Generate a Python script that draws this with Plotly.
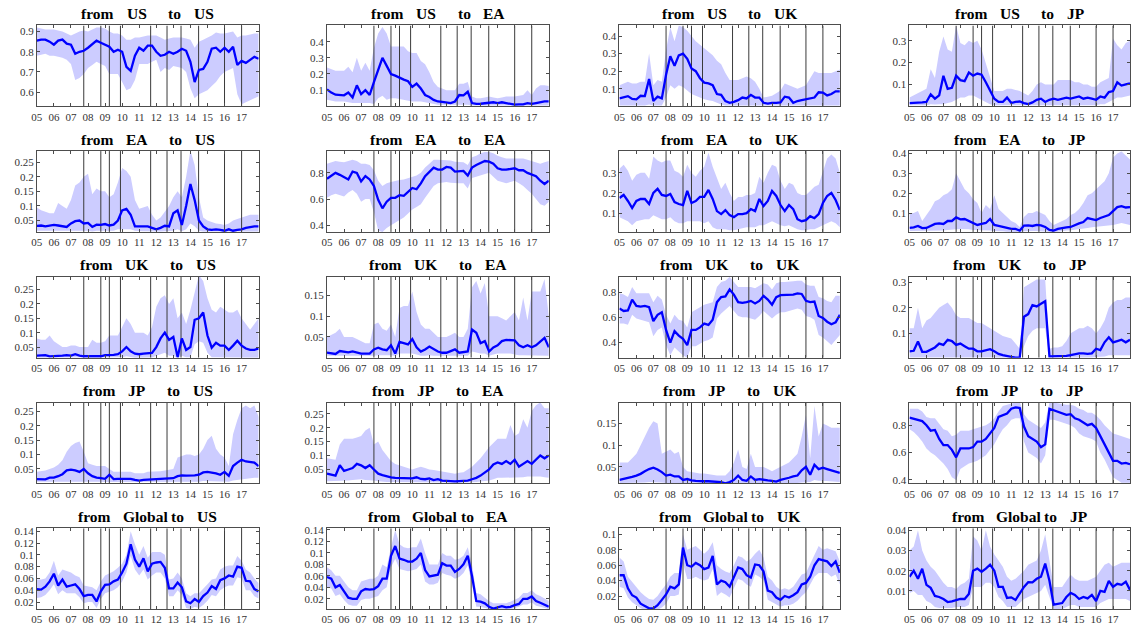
import plotly.graph_objects as go

# ---------------------------------------------------------------------------
# Time axis: quarterly observations 2005Q1 .. 2018Q1, year ticks 05..17
# ---------------------------------------------------------------------------
QUARTERS = [2005 + q / 4 for q in range(53)]
YEARS = list(range(2005, 2018))
YEAR_LABELS = ["05", "06", "07", "08", "09", "10", "11", "12", "13", "14", "15", "16", "17"]

# dates of the events marked with vertical lines
EVENTS = [2007.75, 2008.75, 2009.25, 2009.9, 2011.67, 2012.63, 2013.45, 2014.48, 2016.0, 2017.0]

FROM_REGIONS = ["US", "EA", "UK", "JP", "Global"]
TO_REGIONS = ["US", "EA", "UK", "JP"]

# ---------------------------------------------------------------------------
# Spillover shares: median and credible band (lower / upper)
# ---------------------------------------------------------------------------
US_US_MEAN = [0.855, 0.86, 0.86, 0.85, 0.835, 0.855, 0.86, 0.84, 0.835, 0.79, 0.80, 0.805,
              0.82, 0.84, 0.855, 0.845, 0.835, 0.825, 0.80, 0.81, 0.80, 0.725, 0.705, 0.78,
              0.82, 0.805, 0.83, 0.83, 0.80, 0.78, 0.785, 0.80, 0.79, 0.80, 0.815, 0.805,
              0.75, 0.65, 0.71, 0.715, 0.75, 0.815, 0.82, 0.80, 0.82, 0.80, 0.825, 0.735,
              0.755, 0.745, 0.76, 0.775, 0.765]
US_US_HI = [0.92, 0.915, 0.91, 0.91, 0.91, 0.905, 0.90, 0.89, 0.88, 0.89, 0.90, 0.905,
            0.90, 0.91, 0.92, 0.92, 0.915, 0.90, 0.89, 0.89, 0.88, 0.86, 0.86, 0.87,
            0.87, 0.875, 0.88, 0.88, 0.88, 0.87, 0.86, 0.865, 0.87, 0.87, 0.87, 0.865,
            0.86, 0.82, 0.85, 0.86, 0.87, 0.88, 0.895, 0.89, 0.89, 0.895, 0.90, 0.87,
            0.88, 0.88, 0.885, 0.89, 0.89]
US_US_LO = [0.78, 0.785, 0.79, 0.78, 0.78, 0.775, 0.77, 0.76, 0.74, 0.66, 0.67, 0.69,
            0.72, 0.735, 0.75, 0.74, 0.73, 0.69, 0.69, 0.69, 0.65, 0.61, 0.62, 0.66,
            0.74, 0.74, 0.74, 0.75, 0.76, 0.70, 0.72, 0.71, 0.73, 0.725, 0.72, 0.70,
            0.62, 0.57, 0.59, 0.60, 0.61, 0.63, 0.65, 0.68, 0.70, 0.71, 0.72, 0.59,
            0.54, 0.55, 0.56, 0.57, 0.58]

US_EA_MEAN = [0.105, 0.085, 0.072, 0.07, 0.068, 0.085, 0.055, 0.13, 0.075, 0.10, 0.07, 0.15,
              0.23, 0.30, 0.25, 0.20, 0.19, 0.175, 0.165, 0.155, 0.12, 0.14, 0.11, 0.07,
              0.058, 0.04, 0.03, 0.028, 0.025, 0.02, 0.03, 0.07, 0.068, 0.09, 0.02, 0.015,
              0.016, 0.02, 0.025, 0.025, 0.02, 0.025, 0.02, 0.015, 0.01, 0.012, 0.012, 0.02,
              0.015, 0.02, 0.025, 0.03, 0.03]
US_EA_HI = [0.24, 0.23, 0.22, 0.22, 0.22, 0.245, 0.21, 0.30, 0.22, 0.27, 0.22, 0.36,
            0.45, 0.49, 0.45, 0.37, 0.37, 0.37, 0.37, 0.34, 0.33, 0.33, 0.28, 0.26,
            0.21, 0.15, 0.12, 0.11, 0.10, 0.10, 0.10, 0.14, 0.14, 0.15, 0.06, 0.05,
            0.05, 0.055, 0.06, 0.055, 0.05, 0.055, 0.06, 0.06, 0.06, 0.065, 0.07, 0.10,
            0.07, 0.11, 0.13, 0.13, 0.125]
US_EA_LO = [0.04, 0.035, 0.03, 0.03, 0.03, 0.025, 0.02, 0.02, 0.02, 0.02, 0.02, 0.015,
            0.05, 0.065, 0.04, 0.05, 0.05, 0.045, 0.04, 0.035, 0.03, 0.03, 0.03, 0.025,
            0.02, 0.015, 0.01, 0.01, 0.01, 0.01, 0.01, 0.01, 0.01, 0.01, 0.005, 0.005,
            0.005, 0.005, 0.005, 0.005, 0.005, 0.005, 0.005, 0.005, 0.005, 0.005, 0.005, 0.005,
            0.005, 0.005, 0.005, 0.005, 0.005]

US_UK_MEAN = [0.045, 0.05, 0.058, 0.042, 0.04, 0.06, 0.058, 0.155, 0.03, 0.055, 0.045, 0.18,
              0.285, 0.23, 0.29, 0.30, 0.27, 0.215, 0.20, 0.16, 0.135, 0.13, 0.12, 0.07,
              0.065, 0.03, 0.02, 0.025, 0.035, 0.05, 0.045, 0.065, 0.05, 0.05, 0.02, 0.015,
              0.02, 0.02, 0.022, 0.055, 0.05, 0.02, 0.03, 0.035, 0.04, 0.042, 0.05, 0.08,
              0.078, 0.062, 0.07, 0.085, 0.085]
US_UK_HI = [0.12, 0.13, 0.14, 0.13, 0.13, 0.14, 0.14, 0.30, 0.12, 0.15, 0.14, 0.32,
            0.45, 0.37, 0.46, 0.45, 0.43, 0.40, 0.37, 0.35, 0.33, 0.31, 0.29, 0.26,
            0.24, 0.19, 0.15, 0.15, 0.15, 0.16, 0.17, 0.16, 0.14, 0.10, 0.05, 0.055,
            0.06, 0.075, 0.09, 0.13, 0.12, 0.11, 0.10, 0.11, 0.12, 0.16, 0.20, 0.19,
            0.19, 0.19, 0.19, 0.20, 0.21]
US_UK_LO = [0.005, 0.005, 0.005, 0.005, 0.005, 0.005, 0.005, 0.01, 0.005, 0.005, 0.005, 0.05,
            0.12, 0.10, 0.12, 0.11, 0.09, 0.07, 0.06, 0.05, 0.04, 0.035, 0.03, 0.02,
            0.01, 0.005, 0.005, 0.005, 0.005, 0.005, 0.005, 0.005, 0.005, 0.005, 0.003, 0.003,
            0.003, 0.003, 0.003, 0.005, 0.005, 0.003, 0.003, 0.003, 0.005, 0.005, 0.005, 0.005,
            0.005, 0.005, 0.005, 0.005, 0.005]

US_JP_MEAN = [0.015, 0.015, 0.017, 0.018, 0.02, 0.055, 0.035, 0.05, 0.14, 0.08, 0.085, 0.14,
              0.12, 0.115, 0.155, 0.14, 0.15, 0.145, 0.11, 0.075, 0.035, 0.02, 0.02, 0.04,
              0.015, 0.02, 0.022, 0.015, 0.01, 0.018, 0.03, 0.035, 0.02, 0.03, 0.035, 0.03,
              0.035, 0.04, 0.035, 0.04, 0.045, 0.035, 0.04, 0.035, 0.03, 0.045, 0.04, 0.065,
              0.07, 0.11, 0.095, 0.10, 0.105]
US_JP_HI = [0.04, 0.05, 0.06, 0.07, 0.08, 0.17, 0.13, 0.25, 0.32, 0.26, 0.25, 0.37,
            0.29, 0.28, 0.30, 0.29, 0.30, 0.26, 0.20, 0.13, 0.07, 0.07, 0.07, 0.08,
            0.08, 0.075, 0.07, 0.06, 0.05, 0.07, 0.10, 0.11, 0.10, 0.10, 0.10, 0.12,
            0.12, 0.12, 0.12, 0.11, 0.11, 0.10, 0.10, 0.09, 0.09, 0.11, 0.12, 0.13,
            0.31, 0.28, 0.26, 0.29, 0.30]
US_JP_LO = [0.005, 0.005, 0.005, 0.005, 0.005, 0.01, 0.008, 0.01, 0.01, 0.015, 0.02, 0.03,
            0.04, 0.04, 0.05, 0.05, 0.04, 0.03, 0.02, 0.01, 0.005, 0.005, 0.005, 0.005,
            0.005, 0.005, 0.005, 0.005, 0.003, 0.005, 0.005, 0.005, 0.005, 0.005, 0.005, 0.005,
            0.005, 0.005, 0.005, 0.005, 0.005, 0.005, 0.005, 0.005, 0.005, 0.01, 0.01, 0.02,
            0.03, 0.04, 0.04, 0.045, 0.05]

EA_US_MEAN = [0.032, 0.033, 0.03, 0.032, 0.035, 0.033, 0.03, 0.028, 0.04, 0.048, 0.05, 0.04,
              0.042, 0.028, 0.036, 0.035, 0.038, 0.033, 0.036, 0.05, 0.085, 0.09, 0.07, 0.03,
              0.03, 0.03, 0.03, 0.025, 0.02, 0.025, 0.032, 0.03, 0.075, 0.085, 0.035, 0.10,
              0.175, 0.12, 0.05, 0.03, 0.02, 0.018, 0.02, 0.018, 0.015, 0.02, 0.015, 0.018,
              0.02, 0.025, 0.028, 0.03, 0.03]
EA_US_HI = [0.095, 0.085, 0.08, 0.075, 0.075, 0.11, 0.10, 0.09, 0.12, 0.17, 0.18, 0.20,
            0.21, 0.14, 0.16, 0.15, 0.15, 0.13, 0.14, 0.18, 0.23, 0.22, 0.20, 0.12,
            0.09, 0.095, 0.10, 0.07, 0.05, 0.06, 0.08, 0.10, 0.13, 0.15, 0.13, 0.20,
            0.29, 0.24, 0.13, 0.06, 0.05, 0.045, 0.04, 0.038, 0.035, 0.04, 0.05, 0.055,
            0.06, 0.065, 0.07, 0.07, 0.07]
EA_US_LO = [0.015, 0.015, 0.015, 0.015, 0.015, 0.015, 0.015, 0.015, 0.015, 0.015, 0.015, 0.015,
            0.015, 0.012, 0.015, 0.015, 0.015, 0.015, 0.015, 0.02, 0.02, 0.02, 0.02, 0.015,
            0.013, 0.013, 0.013, 0.012, 0.012, 0.012, 0.013, 0.013, 0.015, 0.02, 0.013, 0.02,
            0.04, 0.03, 0.015, 0.012, 0.012, 0.012, 0.012, 0.012, 0.012, 0.012, 0.012, 0.012,
            0.012, 0.012, 0.012, 0.012, 0.012]

EA_EA_MEAN = [0.755, 0.78, 0.80, 0.785, 0.77, 0.75, 0.81, 0.80, 0.735, 0.775, 0.75, 0.70,
              0.595, 0.53, 0.58, 0.61, 0.61, 0.63, 0.625, 0.655, 0.685, 0.675, 0.72, 0.775,
              0.81, 0.84, 0.825, 0.825, 0.845, 0.84, 0.81, 0.815, 0.815, 0.78, 0.84, 0.86,
              0.875, 0.89, 0.885, 0.87, 0.835, 0.825, 0.825, 0.83, 0.835, 0.82, 0.82, 0.80,
              0.79, 0.775, 0.74, 0.715, 0.74]
EA_EA_HI = [0.87, 0.88, 0.89, 0.885, 0.88, 0.89, 0.90, 0.89, 0.87, 0.87, 0.86, 0.82,
            0.74, 0.70, 0.72, 0.73, 0.74, 0.745, 0.75, 0.76, 0.77, 0.78, 0.80, 0.84,
            0.87, 0.90, 0.90, 0.90, 0.90, 0.895, 0.885, 0.88, 0.88, 0.86, 0.92, 0.93,
            0.95, 0.96, 0.96, 0.95, 0.93, 0.92, 0.91, 0.91, 0.91, 0.91, 0.91, 0.90,
            0.89, 0.88, 0.87, 0.88, 0.89]
EA_EA_LO = [0.61, 0.63, 0.64, 0.63, 0.62, 0.65, 0.67, 0.64, 0.58, 0.60, 0.60, 0.50,
            0.36, 0.35, 0.38, 0.40, 0.42, 0.44, 0.46, 0.49, 0.52, 0.54, 0.56, 0.61,
            0.66, 0.70, 0.72, 0.725, 0.73, 0.725, 0.72, 0.72, 0.72, 0.68, 0.76, 0.77,
            0.78, 0.79, 0.80, 0.77, 0.74, 0.73, 0.72, 0.73, 0.74, 0.72, 0.70, 0.67,
            0.64, 0.60, 0.56, 0.55, 0.58]

EA_UK_MEAN = [0.175, 0.19, 0.16, 0.125, 0.16, 0.17, 0.17, 0.145, 0.20, 0.22, 0.19, 0.185,
              0.195, 0.155, 0.145, 0.14, 0.21, 0.15, 0.16, 0.18, 0.18, 0.215, 0.17, 0.11,
              0.095, 0.115, 0.09, 0.08, 0.095, 0.095, 0.10, 0.12, 0.11, 0.17, 0.135, 0.16,
              0.21, 0.185, 0.14, 0.11, 0.14, 0.12, 0.07, 0.06, 0.065, 0.085, 0.075, 0.095,
              0.15, 0.185, 0.20, 0.165, 0.115]
EA_UK_HI = [0.32, 0.34, 0.31, 0.26, 0.29, 0.30, 0.30, 0.27, 0.38, 0.36, 0.35, 0.36,
            0.36, 0.31, 0.30, 0.28, 0.34, 0.30, 0.28, 0.31, 0.33, 0.40, 0.33, 0.27,
            0.22, 0.25, 0.20, 0.16, 0.18, 0.18, 0.19, 0.19, 0.20, 0.28, 0.25, 0.30,
            0.34, 0.33, 0.26, 0.22, 0.25, 0.24, 0.20, 0.19, 0.19, 0.21, 0.23, 0.24,
            0.31, 0.37, 0.39, 0.37, 0.30]
EA_UK_LO = [0.08, 0.07, 0.06, 0.04, 0.06, 0.065, 0.07, 0.07, 0.09, 0.08, 0.07, 0.07,
            0.08, 0.06, 0.05, 0.05, 0.06, 0.06, 0.06, 0.06, 0.05, 0.06, 0.03, 0.02,
            0.02, 0.02, 0.015, 0.015, 0.02, 0.025, 0.03, 0.03, 0.03, 0.04, 0.04, 0.05,
            0.06, 0.05, 0.04, 0.035, 0.04, 0.03, 0.02, 0.015, 0.015, 0.02, 0.02, 0.03,
            0.04, 0.05, 0.06, 0.05, 0.03]

EA_JP_MEAN = [0.025, 0.028, 0.035, 0.024, 0.025, 0.035, 0.045, 0.048, 0.045, 0.06, 0.06, 0.078,
              0.068, 0.07, 0.06, 0.05, 0.04, 0.045, 0.05, 0.07, 0.04, 0.035, 0.03, 0.022,
              0.02, 0.02, 0.012, 0.037, 0.038, 0.035, 0.04, 0.038, 0.03, 0.015, 0.012, 0.02,
              0.025, 0.028, 0.03, 0.04, 0.048, 0.055, 0.075, 0.07, 0.065, 0.075, 0.082, 0.09,
              0.11, 0.13, 0.135, 0.128, 0.13]
EA_JP_HI = [0.10, 0.10, 0.11, 0.06, 0.09, 0.12, 0.16, 0.17, 0.19, 0.20, 0.22, 0.30,
            0.26, 0.22, 0.20, 0.17, 0.15, 0.10, 0.14, 0.12, 0.19, 0.12, 0.10, 0.08,
            0.06, 0.05, 0.03, 0.08, 0.10, 0.10, 0.11, 0.10, 0.09, 0.06, 0.04, 0.05,
            0.06, 0.07, 0.09, 0.10, 0.12, 0.15, 0.19, 0.20, 0.22, 0.24, 0.26, 0.30,
            0.38, 0.40, 0.41, 0.39, 0.37]
EA_JP_LO = [0.01, 0.01, 0.01, 0.01, 0.01, 0.01, 0.01, 0.012, 0.012, 0.015, 0.015, 0.018,
            0.02, 0.02, 0.018, 0.015, 0.015, 0.012, 0.012, 0.012, 0.01, 0.01, 0.008, 0.006,
            0.005, 0.005, 0.004, 0.008, 0.01, 0.01, 0.01, 0.008, 0.006, 0.005, 0.004, 0.006,
            0.01, 0.012, 0.014, 0.016, 0.02, 0.022, 0.025, 0.028, 0.03, 0.032, 0.035, 0.038,
            0.04, 0.045, 0.05, 0.045, 0.04]

UK_US_MEAN = [0.02, 0.02, 0.022, 0.018, 0.018, 0.018, 0.02, 0.022, 0.02, 0.025, 0.02, 0.018,
              0.017, 0.018, 0.018, 0.018, 0.022, 0.022, 0.023, 0.025, 0.035, 0.05, 0.035, 0.027,
              0.025, 0.027, 0.028, 0.03, 0.05, 0.08, 0.10, 0.075, 0.085, 0.015, 0.08, 0.04,
              0.05, 0.145, 0.15, 0.17, 0.09, 0.048, 0.065, 0.055, 0.055, 0.04, 0.055, 0.072,
              0.055, 0.045, 0.04, 0.04, 0.045]
UK_US_HI = [0.08, 0.075, 0.075, 0.09, 0.07, 0.06, 0.05, 0.05, 0.055, 0.055, 0.05, 0.05,
            0.05, 0.075, 0.065, 0.065, 0.07, 0.09, 0.09, 0.09, 0.12, 0.15, 0.13, 0.10,
            0.10, 0.10, 0.09, 0.12, 0.19, 0.22, 0.23, 0.20, 0.22, 0.15, 0.17, 0.13,
            0.18, 0.24, 0.30, 0.28, 0.22, 0.18, 0.17, 0.19, 0.18, 0.17, 0.17, 0.18,
            0.15, 0.13, 0.11, 0.13, 0.15]
UK_US_LO = [0.013, 0.013, 0.013, 0.013, 0.013, 0.013, 0.013, 0.013, 0.013, 0.013, 0.013, 0.013,
            0.013, 0.013, 0.013, 0.013, 0.013, 0.013, 0.013, 0.013, 0.015, 0.018, 0.015, 0.013,
            0.013, 0.013, 0.013, 0.014, 0.02, 0.025, 0.03, 0.02, 0.02, 0.012, 0.02, 0.015,
            0.015, 0.06, 0.07, 0.065, 0.03, 0.015, 0.015, 0.015, 0.015, 0.013, 0.013, 0.015,
            0.014, 0.013, 0.013, 0.013, 0.013]

UK_EA_MEAN = [0.012, 0.011, 0.009, 0.016, 0.014, 0.013, 0.015, 0.012, 0.01, 0.01, 0.01, 0.02,
              0.024, 0.02, 0.018, 0.03, 0.01, 0.038, 0.035, 0.032, 0.045, 0.025, 0.015, 0.02,
              0.027, 0.02, 0.015, 0.012, 0.012, 0.016, 0.02, 0.012, 0.013, 0.015, 0.068, 0.06,
              0.035, 0.04, 0.015, 0.025, 0.03, 0.04, 0.043, 0.042, 0.042, 0.03, 0.025, 0.03,
              0.025, 0.03, 0.038, 0.048, 0.025]
UK_EA_HI = [0.05, 0.055, 0.06, 0.07, 0.05, 0.05, 0.05, 0.045, 0.04, 0.035, 0.035, 0.08,
            0.085, 0.07, 0.065, 0.08, 0.05, 0.12, 0.125, 0.125, 0.16, 0.11, 0.08, 0.07,
            0.07, 0.06, 0.05, 0.05, 0.05, 0.055, 0.06, 0.05, 0.05, 0.07, 0.17, 0.185,
            0.155, 0.18, 0.10, 0.10, 0.10, 0.095, 0.09, 0.10, 0.11, 0.09, 0.145, 0.09,
            0.16, 0.16, 0.16, 0.19, 0.10]
UK_EA_LO = [0.005, 0.005, 0.005, 0.005, 0.005, 0.005, 0.005, 0.004, 0.004, 0.004, 0.004, 0.005,
            0.006, 0.006, 0.005, 0.006, 0.004, 0.01, 0.01, 0.01, 0.01, 0.008, 0.005, 0.005,
            0.006, 0.005, 0.005, 0.004, 0.004, 0.005, 0.005, 0.004, 0.004, 0.005, 0.015, 0.012,
            0.01, 0.01, 0.005, 0.008, 0.01, 0.01, 0.01, 0.01, 0.008, 0.006, 0.006, 0.006,
            0.006, 0.006, 0.006, 0.006, 0.005]

UK_UK_MEAN = [0.67, 0.65, 0.655, 0.74, 0.69, 0.685, 0.69, 0.68, 0.57, 0.62, 0.64, 0.50,
              0.40, 0.49, 0.455, 0.43, 0.38, 0.50, 0.50, 0.52, 0.55, 0.54, 0.58, 0.72,
              0.76, 0.765, 0.82, 0.78, 0.72, 0.715, 0.72, 0.73, 0.71, 0.73, 0.77, 0.74,
              0.70, 0.76, 0.775, 0.775, 0.78, 0.78, 0.79, 0.785, 0.73, 0.72, 0.725, 0.61,
              0.595, 0.565, 0.545, 0.56, 0.62]
UK_UK_HI = [0.79, 0.78, 0.76, 0.84, 0.79, 0.79, 0.79, 0.79, 0.72, 0.77, 0.74, 0.62,
            0.55, 0.62, 0.58, 0.57, 0.52, 0.64, 0.66, 0.68, 0.70, 0.71, 0.72, 0.84,
            0.88, 0.89, 0.92, 0.88, 0.84, 0.84, 0.84, 0.84, 0.83, 0.85, 0.87, 0.86,
            0.82, 0.87, 0.88, 0.88, 0.88, 0.885, 0.89, 0.89, 0.86, 0.85, 0.85, 0.76,
            0.75, 0.73, 0.72, 0.77, 0.77]
UK_UK_LO = [0.55, 0.55, 0.54, 0.62, 0.59, 0.58, 0.57, 0.56, 0.45, 0.50, 0.52, 0.38,
            0.30, 0.36, 0.33, 0.30, 0.28, 0.37, 0.37, 0.39, 0.41, 0.42, 0.44, 0.59,
            0.63, 0.66, 0.69, 0.65, 0.61, 0.60, 0.60, 0.59, 0.58, 0.61, 0.65, 0.62,
            0.59, 0.62, 0.64, 0.64, 0.65, 0.66, 0.67, 0.66, 0.61, 0.60, 0.58, 0.46,
            0.44, 0.41, 0.38, 0.42, 0.46]

UK_JP_MEAN = [0.03, 0.032, 0.068, 0.028, 0.028, 0.035, 0.045, 0.06, 0.055, 0.075, 0.07, 0.055,
              0.06, 0.05, 0.04, 0.04, 0.03, 0.03, 0.035, 0.038, 0.03, 0.02, 0.015, 0.01,
              0.008, 0.005, 0.006, 0.165, 0.175, 0.21, 0.205, 0.215, 0.225, 0.01, 0.01, 0.012,
              0.012, 0.012, 0.015, 0.02, 0.022, 0.022, 0.02, 0.022, 0.04, 0.035, 0.065, 0.085,
              0.065, 0.07, 0.075, 0.065, 0.075]
UK_JP_HI = [0.12, 0.12, 0.20, 0.12, 0.15, 0.16, 0.18, 0.20, 0.21, 0.22, 0.20, 0.17,
            0.16, 0.16, 0.16, 0.15, 0.14, 0.14, 0.13, 0.12, 0.11, 0.10, 0.09, 0.085,
            0.08, 0.06, 0.04, 0.28, 0.29, 0.30, 0.31, 0.31, 0.31, 0.04, 0.045, 0.045,
            0.05, 0.07, 0.10, 0.11, 0.12, 0.12, 0.13, 0.12, 0.10, 0.12, 0.15, 0.20,
            0.22, 0.23, 0.23, 0.24, 0.24]
UK_JP_LO = [0.006, 0.006, 0.008, 0.006, 0.006, 0.006, 0.006, 0.006, 0.006, 0.008, 0.008, 0.007,
            0.007, 0.007, 0.006, 0.006, 0.006, 0.006, 0.006, 0.006, 0.006, 0.005, 0.005, 0.005,
            0.005, 0.005, 0.005, 0.05, 0.09, 0.11, 0.12, 0.12, 0.12, 0.005, 0.005, 0.005,
            0.005, 0.005, 0.005, 0.006, 0.006, 0.006, 0.006, 0.006, 0.008, 0.008, 0.01, 0.015,
            0.015, 0.015, 0.015, 0.015, 0.015]

JP_US_MEAN = [0.015, 0.015, 0.014, 0.02, 0.02, 0.025, 0.032, 0.045, 0.048, 0.045, 0.04, 0.05,
              0.035, 0.025, 0.02, 0.018, 0.016, 0.03, 0.015, 0.016, 0.016, 0.017, 0.016, 0.012,
              0.01, 0.012, 0.012, 0.014, 0.015, 0.016, 0.015, 0.016, 0.018, 0.025, 0.028, 0.027,
              0.027, 0.028, 0.03, 0.038, 0.04, 0.038, 0.035, 0.03, 0.04, 0.026, 0.06, 0.072,
              0.082, 0.076, 0.075, 0.072, 0.06]
JP_US_HI = [0.04, 0.042, 0.045, 0.05, 0.055, 0.065, 0.08, 0.11, 0.13, 0.14, 0.145, 0.11,
            0.07, 0.065, 0.06, 0.06, 0.06, 0.05, 0.04, 0.04, 0.04, 0.04, 0.04, 0.035,
            0.035, 0.035, 0.04, 0.04, 0.04, 0.042, 0.045, 0.048, 0.05, 0.09, 0.095, 0.10,
            0.10, 0.095, 0.10, 0.12, 0.15, 0.165, 0.12, 0.10, 0.09, 0.06, 0.17, 0.22,
            0.26, 0.27, 0.26, 0.27, 0.23]
JP_US_LO = [0.006, 0.006, 0.006, 0.006, 0.006, 0.006, 0.006, 0.008, 0.008, 0.008, 0.008, 0.008,
            0.008, 0.006, 0.006, 0.006, 0.005, 0.005, 0.005, 0.005, 0.005, 0.005, 0.005, 0.005,
            0.005, 0.005, 0.005, 0.005, 0.005, 0.005, 0.005, 0.005, 0.005, 0.006, 0.006, 0.006,
            0.006, 0.006, 0.006, 0.008, 0.008, 0.008, 0.008, 0.008, 0.008, 0.006, 0.01, 0.012,
            0.015, 0.018, 0.02, 0.02, 0.02]

JP_EA_MEAN = [0.035, 0.032, 0.028, 0.065, 0.045, 0.05, 0.055, 0.07, 0.065, 0.055, 0.065, 0.05,
              0.035, 0.03, 0.025, 0.022, 0.02, 0.02, 0.02, 0.018, 0.018, 0.022, 0.016, 0.015,
              0.018, 0.012, 0.015, 0.01, 0.01, 0.008, 0.007, 0.008, 0.008, 0.01, 0.015, 0.02,
              0.028, 0.04, 0.05, 0.068, 0.075, 0.07, 0.08, 0.07, 0.085, 0.06, 0.07, 0.08,
              0.07, 0.085, 0.10, 0.09, 0.10]
JP_EA_HI = [0.09, 0.088, 0.085, 0.14, 0.16, 0.16, 0.16, 0.165, 0.17, 0.19, 0.20, 0.14,
            0.15, 0.12, 0.10, 0.08, 0.07, 0.065, 0.06, 0.055, 0.05, 0.055, 0.06, 0.055,
            0.05, 0.048, 0.045, 0.042, 0.04, 0.038, 0.035, 0.038, 0.04, 0.05, 0.06, 0.075,
            0.09, 0.11, 0.13, 0.145, 0.16, 0.16, 0.16, 0.21, 0.17, 0.18, 0.23, 0.20,
            0.26, 0.28, 0.29, 0.27, 0.27]
JP_EA_LO = [0.008, 0.008, 0.008, 0.01, 0.01, 0.01, 0.012, 0.014, 0.015, 0.012, 0.012, 0.01,
            0.008, 0.006, 0.005, 0.005, 0.005, 0.005, 0.005, 0.005, 0.005, 0.005, 0.005, 0.004,
            0.004, 0.004, 0.004, 0.003, 0.003, 0.003, 0.002, 0.002, 0.002, 0.003, 0.004, 0.005,
            0.006, 0.008, 0.01, 0.015, 0.02, 0.02, 0.02, 0.02, 0.02, 0.02, 0.022, 0.025,
            0.025, 0.025, 0.025, 0.022, 0.02]

JP_UK_MEAN = [0.02, 0.022, 0.025, 0.027, 0.03, 0.034, 0.04, 0.045, 0.048, 0.044, 0.038, 0.03,
              0.032, 0.028, 0.028, 0.02, 0.022, 0.019, 0.018, 0.017, 0.017, 0.017, 0.016, 0.015,
              0.015, 0.012, 0.015, 0.02, 0.03, 0.02, 0.018, 0.028, 0.02, 0.022, 0.02, 0.019,
              0.018, 0.016, 0.02, 0.022, 0.025, 0.028, 0.03, 0.042, 0.05, 0.032, 0.055, 0.045,
              0.048, 0.045, 0.042, 0.038, 0.036]
JP_UK_HI = [0.06, 0.06, 0.06, 0.07, 0.08, 0.10, 0.12, 0.14, 0.155, 0.15, 0.08, 0.085,
            0.09, 0.08, 0.085, 0.05, 0.04, 0.038, 0.036, 0.035, 0.035, 0.033, 0.032, 0.03,
            0.03, 0.03, 0.04, 0.06, 0.09, 0.05, 0.045, 0.08, 0.05, 0.05, 0.05, 0.045,
            0.04, 0.045, 0.05, 0.055, 0.06, 0.07, 0.08, 0.12, 0.17, 0.07, 0.19, 0.12,
            0.15, 0.145, 0.14, 0.14, 0.14]
JP_UK_LO = [0.013, 0.013, 0.013, 0.013, 0.013, 0.013, 0.014, 0.015, 0.015, 0.015, 0.014, 0.013,
            0.013, 0.013, 0.013, 0.012, 0.012, 0.012, 0.012, 0.012, 0.012, 0.012, 0.012, 0.012,
            0.012, 0.012, 0.012, 0.012, 0.013, 0.012, 0.012, 0.012, 0.012, 0.012, 0.012, 0.012,
            0.012, 0.012, 0.012, 0.012, 0.012, 0.012, 0.013, 0.014, 0.015, 0.015, 0.02, 0.018,
            0.018, 0.017, 0.016, 0.016, 0.015]

JP_JP_MEAN = [0.855, 0.845, 0.84, 0.83, 0.80, 0.76, 0.765, 0.70, 0.655, 0.655, 0.62, 0.565,
              0.63, 0.63, 0.63, 0.64, 0.68, 0.68, 0.70, 0.74, 0.78, 0.86, 0.875, 0.885,
              0.92, 0.93, 0.925, 0.79, 0.72, 0.70, 0.68, 0.64, 0.66, 0.92, 0.91, 0.90,
              0.885, 0.875, 0.88, 0.85, 0.84, 0.82, 0.80, 0.81, 0.78, 0.72, 0.66, 0.60,
              0.54, 0.54, 0.52, 0.525, 0.515]
JP_JP_HI = [0.92, 0.92, 0.92, 0.90, 0.86, 0.85, 0.85, 0.81, 0.77, 0.76, 0.72, 0.73,
            0.76, 0.76, 0.76, 0.77, 0.78, 0.79, 0.80, 0.82, 0.85, 0.90, 0.94, 0.95,
            0.96, 0.965, 0.97, 0.88, 0.84, 0.82, 0.80, 0.78, 0.82, 0.965, 0.965, 0.96,
            0.95, 0.95, 0.95, 0.94, 0.92, 0.91, 0.89, 0.89, 0.87, 0.84, 0.80, 0.77,
            0.74, 0.73, 0.72, 0.71, 0.70]
JP_JP_LO = [0.77, 0.75, 0.72, 0.68, 0.63, 0.60, 0.58, 0.55, 0.52, 0.48, 0.42, 0.40,
            0.48, 0.50, 0.52, 0.53, 0.54, 0.56, 0.58, 0.62, 0.66, 0.72, 0.77, 0.80,
            0.84, 0.85, 0.85, 0.68, 0.60, 0.58, 0.56, 0.52, 0.58, 0.84, 0.84, 0.83,
            0.82, 0.81, 0.80, 0.78, 0.74, 0.72, 0.71, 0.70, 0.68, 0.60, 0.55, 0.48,
            0.42, 0.40, 0.38, 0.38, 0.38]

GL_US_MEAN = [0.042, 0.041, 0.046, 0.055, 0.068, 0.048, 0.058, 0.046, 0.048, 0.05, 0.042, 0.03,
              0.032, 0.032, 0.021, 0.038, 0.049, 0.05, 0.055, 0.058, 0.07, 0.085, 0.118, 0.092,
              0.08, 0.094, 0.072, 0.085, 0.087, 0.088, 0.078, 0.043, 0.043, 0.053, 0.045, 0.021,
              0.018, 0.025, 0.02, 0.03, 0.036, 0.047, 0.042, 0.057, 0.06, 0.065, 0.063, 0.08,
              0.078, 0.056, 0.055, 0.042, 0.038]
GL_US_HI = [0.058, 0.058, 0.06, 0.07, 0.09, 0.065, 0.075, 0.072, 0.07, 0.065, 0.062, 0.048,
            0.046, 0.045, 0.04, 0.055, 0.065, 0.068, 0.072, 0.078, 0.085, 0.10, 0.14, 0.118,
            0.10, 0.115, 0.095, 0.105, 0.105, 0.105, 0.10, 0.058, 0.06, 0.07, 0.06, 0.035,
            0.03, 0.035, 0.035, 0.042, 0.05, 0.058, 0.06, 0.075, 0.08, 0.082, 0.082, 0.098,
            0.09, 0.075, 0.07, 0.06, 0.052]
GL_US_LO = [0.027, 0.028, 0.032, 0.04, 0.05, 0.033, 0.04, 0.035, 0.035, 0.035, 0.028, 0.018,
            0.02, 0.02, 0.01, 0.025, 0.035, 0.037, 0.04, 0.045, 0.055, 0.07, 0.098, 0.075,
            0.065, 0.075, 0.058, 0.065, 0.07, 0.07, 0.06, 0.03, 0.03, 0.04, 0.032, 0.01,
            0.008, 0.012, 0.01, 0.015, 0.022, 0.032, 0.03, 0.04, 0.045, 0.048, 0.048, 0.062,
            0.06, 0.04, 0.04, 0.03, 0.026]

GL_EA_MEAN = [0.058, 0.055, 0.04, 0.044, 0.033, 0.022, 0.02, 0.02, 0.033, 0.037, 0.036, 0.037,
              0.042, 0.055, 0.055, 0.095, 0.112, 0.09, 0.088, 0.085, 0.085, 0.09, 0.10, 0.07,
              0.059, 0.06, 0.062, 0.082, 0.078, 0.078, 0.067, 0.072, 0.08, 0.095, 0.06, 0.016,
              0.015, 0.012, 0.006, 0.003, 0.005, 0.007, 0.005, 0.006, 0.009, 0.011, 0.02, 0.02,
              0.024, 0.016, 0.013, 0.009, 0.006]
GL_EA_HI = [0.075, 0.07, 0.06, 0.06, 0.05, 0.04, 0.035, 0.035, 0.05, 0.052, 0.055, 0.055,
            0.06, 0.08, 0.075, 0.11, 0.14, 0.115, 0.11, 0.108, 0.11, 0.11, 0.125, 0.10,
            0.08, 0.08, 0.08, 0.10, 0.095, 0.095, 0.088, 0.09, 0.095, 0.11, 0.08, 0.03,
            0.028, 0.022, 0.016, 0.012, 0.012, 0.012, 0.012, 0.015, 0.018, 0.022, 0.03, 0.03,
            0.035, 0.028, 0.025, 0.02, 0.016]
GL_EA_LO = [0.04, 0.038, 0.025, 0.028, 0.018, 0.01, 0.008, 0.008, 0.018, 0.02, 0.02, 0.022,
            0.025, 0.035, 0.04, 0.075, 0.09, 0.072, 0.07, 0.068, 0.07, 0.072, 0.08, 0.05,
            0.045, 0.045, 0.048, 0.065, 0.062, 0.06, 0.055, 0.058, 0.065, 0.078, 0.045, 0.006,
            0.006, 0.004, 0.002, 0.002, 0.002, 0.002, 0.002, 0.002, 0.004, 0.006, 0.01, 0.01,
            0.014, 0.008, 0.006, 0.004, 0.002]

GL_UK_MEAN = [0.047, 0.047, 0.03, 0.021, 0.018, 0.01, 0.007, 0.004, 0.004, 0.008, 0.015, 0.022,
              0.032, 0.03, 0.035, 0.083, 0.06, 0.058, 0.063, 0.06, 0.055, 0.057, 0.072, 0.035,
              0.04, 0.038, 0.032, 0.045, 0.057, 0.055, 0.047, 0.044, 0.061, 0.06, 0.052, 0.027,
              0.025, 0.018, 0.015, 0.02, 0.018, 0.021, 0.025, 0.035, 0.037, 0.045, 0.06, 0.068,
              0.066, 0.065, 0.059, 0.065, 0.05]
GL_UK_HI = [0.07, 0.065, 0.045, 0.038, 0.032, 0.025, 0.02, 0.016, 0.015, 0.02, 0.028, 0.035,
            0.045, 0.05, 0.05, 0.10, 0.08, 0.082, 0.085, 0.08, 0.075, 0.08, 0.09, 0.06,
            0.055, 0.052, 0.05, 0.06, 0.072, 0.07, 0.065, 0.068, 0.075, 0.08, 0.07, 0.045,
            0.04, 0.032, 0.028, 0.03, 0.028, 0.032, 0.04, 0.048, 0.05, 0.062, 0.075, 0.085,
            0.08, 0.082, 0.08, 0.078, 0.065]
GL_UK_LO = [0.032, 0.03, 0.018, 0.012, 0.008, 0.004, 0.002, 0.001, 0.001, 0.002, 0.005, 0.01,
            0.02, 0.02, 0.022, 0.062, 0.042, 0.042, 0.045, 0.042, 0.04, 0.042, 0.055, 0.02,
            0.025, 0.022, 0.018, 0.03, 0.042, 0.04, 0.035, 0.032, 0.048, 0.045, 0.04, 0.015,
            0.012, 0.008, 0.006, 0.008, 0.008, 0.01, 0.014, 0.02, 0.025, 0.035, 0.045, 0.05,
            0.05, 0.05, 0.045, 0.048, 0.035]

GL_JP_MEAN = [0.017, 0.02, 0.016, 0.021, 0.013, 0.0115, 0.0075, 0.007, 0.006, 0.0045, 0.0048, 0.0055,
              0.006, 0.006, 0.0085, 0.02, 0.021, 0.0195, 0.021, 0.023, 0.02, 0.012, 0.012, 0.0065,
              0.0068, 0.0055, 0.009, 0.012, 0.0143, 0.0142, 0.016, 0.017, 0.0235, 0.015, 0.0032, 0.0036,
              0.004, 0.007, 0.009, 0.008, 0.006, 0.007, 0.0063, 0.008, 0.005, 0.01, 0.0095, 0.015,
              0.012, 0.0135, 0.013, 0.0145, 0.0105]
GL_JP_HI = [0.03, 0.032, 0.04, 0.03, 0.025, 0.022, 0.02, 0.017, 0.014, 0.012, 0.012, 0.011,
            0.013, 0.014, 0.016, 0.037, 0.035, 0.03, 0.04, 0.032, 0.028, 0.025, 0.022, 0.017,
            0.015, 0.016, 0.018, 0.02, 0.023, 0.024, 0.025, 0.03, 0.038, 0.025, 0.012, 0.012,
            0.012, 0.015, 0.018, 0.016, 0.015, 0.015, 0.015, 0.016, 0.017, 0.02, 0.023, 0.024,
            0.022, 0.023, 0.024, 0.024, 0.024]
GL_JP_LO = [0.009, 0.01, 0.008, 0.008, 0.005, 0.004, 0.002, 0.0015, 0.0015, 0.0015, 0.0015, 0.002,
            0.002, 0.002, 0.003, 0.012, 0.012, 0.012, 0.014, 0.014, 0.012, 0.007, 0.005, 0.002,
            0.002, 0.002, 0.004, 0.006, 0.007, 0.008, 0.009, 0.01, 0.013, 0.007, 0.001, 0.001,
            0.001, 0.002, 0.003, 0.003, 0.002, 0.002, 0.002, 0.002, 0.002, 0.004, 0.005, 0.006,
            0.006, 0.006, 0.006, 0.006, 0.005]

# table of (median, lower, upper) for each origin -> destination pair
SERIES = {
    ("US", "US"): (US_US_MEAN, US_US_LO, US_US_HI),
    ("US", "EA"): (US_EA_MEAN, US_EA_LO, US_EA_HI),
    ("US", "UK"): (US_UK_MEAN, US_UK_LO, US_UK_HI),
    ("US", "JP"): (US_JP_MEAN, US_JP_LO, US_JP_HI),
    ("EA", "US"): (EA_US_MEAN, EA_US_LO, EA_US_HI),
    ("EA", "EA"): (EA_EA_MEAN, EA_EA_LO, EA_EA_HI),
    ("EA", "UK"): (EA_UK_MEAN, EA_UK_LO, EA_UK_HI),
    ("EA", "JP"): (EA_JP_MEAN, EA_JP_LO, EA_JP_HI),
    ("UK", "US"): (UK_US_MEAN, UK_US_LO, UK_US_HI),
    ("UK", "EA"): (UK_EA_MEAN, UK_EA_LO, UK_EA_HI),
    ("UK", "UK"): (UK_UK_MEAN, UK_UK_LO, UK_UK_HI),
    ("UK", "JP"): (UK_JP_MEAN, UK_JP_LO, UK_JP_HI),
    ("JP", "US"): (JP_US_MEAN, JP_US_LO, JP_US_HI),
    ("JP", "EA"): (JP_EA_MEAN, JP_EA_LO, JP_EA_HI),
    ("JP", "UK"): (JP_UK_MEAN, JP_UK_LO, JP_UK_HI),
    ("JP", "JP"): (JP_JP_MEAN, JP_JP_LO, JP_JP_HI),
    ("Global", "US"): (GL_US_MEAN, GL_US_LO, GL_US_HI),
    ("Global", "EA"): (GL_EA_MEAN, GL_EA_LO, GL_EA_HI),
    ("Global", "UK"): (GL_UK_MEAN, GL_UK_LO, GL_UK_HI),
    ("Global", "JP"): (GL_JP_MEAN, GL_JP_LO, GL_JP_HI),
}

# y-axis limits and tick values per panel (row-major order)
Y_RANGES = [
    (0.53, 0.93), (0.0, 0.5), (0.0, 0.46), (0.0, 0.37),
    (0.011, 0.288), (0.35, 0.966), (0.007, 0.407), (0.005, 0.412),
    (0.013, 0.294), (0.0, 0.195), (0.28, 0.92), (0.005, 0.32),
    (0.0, 0.28), (0.0, 0.29), (0.012, 0.198), (0.375, 0.965),
    (0.008, 0.145), (0.002, 0.143), (0.003, 0.108), (0.001, 0.041),
]
Y_TICKS = [
    [0.6, 0.7, 0.8, 0.9], [0.1, 0.2, 0.3, 0.4], [0.1, 0.2, 0.3, 0.4], [0.1, 0.2, 0.3],
    [0.05, 0.1, 0.15, 0.2, 0.25], [0.4, 0.6, 0.8], [0.1, 0.2, 0.3], [0.1, 0.2, 0.3, 0.4],
    [0.05, 0.1, 0.15, 0.2, 0.25], [0.05, 0.1, 0.15], [0.4, 0.6, 0.8], [0.1, 0.2, 0.3],
    [0.05, 0.1, 0.15, 0.2, 0.25], [0.05, 0.1, 0.15, 0.2, 0.25], [0.05, 0.1, 0.15], [0.4, 0.6, 0.8],
    [0.02, 0.04, 0.06, 0.08, 0.1, 0.12, 0.14], [0.02, 0.04, 0.06, 0.08, 0.1, 0.12, 0.14],
    [0.02, 0.04, 0.06, 0.08, 0.1], [0.01, 0.02, 0.03, 0.04],
]

for key, (m, lo, hi) in SERIES.items():
    assert len(m) == len(lo) == len(hi) == len(QUARTERS), key

# ---------------------------------------------------------------------------
# Page geometry (pixels) of the 5 x 4 panel grid
# ---------------------------------------------------------------------------
W, H = 1132, 632
COL_X = [(31.0, 254.0), (322.7, 545.7), (616.7, 838.3), (908.3, 1130.0)]
ROW_TOP = [21.7, 148.5, 275.5, 402.4, 529.3]
ROW_H = 81.6

LINE_BLUE = "#0000ff"
BAND_FILL = "#ccccff"
FRAME = "#4d4d4d"
SERIF = "Liberation Serif"

# Panel titles are laid out word by word on a fixed character grid
# ("from   <src padded to 6> to   <dst>") using bold serif advance widths.
GRID_SIZE = 15          # size the word grid is measured at
TITLE_SIZE = 15.5       # size the words are drawn at
SPACE_W = 4.5
BOLD_ADV = {"f": 0.333, "r": 0.444, "o": 0.5, "m": 0.833, "t": 0.333, "U": 0.722, "S": 0.556,
            "E": 0.667, "A": 0.722, "K": 0.778, "J": 0.5, "P": 0.611, "G": 0.778, "l": 0.278,
            "b": 0.556, "a": 0.5}


def text_w(s):
    return sum(BOLD_ADV[ch] for ch in s) * GRID_SIZE


def title_words(src, dst):
    """Return (word, centre offset from title centre) for the four title words."""
    pieces = [("from", 3), (src, 6 - len(src) + 1), ("to", 3), (dst, 0)]
    pos, out = 0.0, []
    for word, gap in pieces:
        w = text_w(word)
        out.append((word, pos + w / 2))
        pos += w + gap * SPACE_W
    total = pos
    return [(w, c - total / 2) for w, c in out]


fig = go.Figure()
layout = {}
annotations = []

for r, src in enumerate(FROM_REGIONS):
    for c, dst in enumerate(TO_REGIONS):
        k = r * 4 + c
        n = k + 1
        xref = "x" if n == 1 else f"x{n}"
        yref = "y" if n == 1 else f"y{n}"
        mean, lo, hi = SERIES[(src, dst)]
        y0, y1 = Y_RANGES[k]

        # credible band
        fig.add_trace(go.Scatter(x=QUARTERS, y=hi, mode="lines", line=dict(width=0, color=BAND_FILL),
                                 xaxis=xref, yaxis=yref, showlegend=False, hoverinfo="skip"))
        fig.add_trace(go.Scatter(x=QUARTERS, y=lo, mode="lines", line=dict(width=0, color=BAND_FILL),
                                 fill="tonexty", fillcolor=BAND_FILL,
                                 xaxis=xref, yaxis=yref, showlegend=False, hoverinfo="skip"))

        # event markers
        ex, ey = [], []
        for e in EVENTS:
            ex += [e, e, None]
            ey += [y0, y1, None]
        fig.add_trace(go.Scatter(x=ex, y=ey, mode="lines", line=dict(width=1, color="#3a3a3a"),
                                 xaxis=xref, yaxis=yref, showlegend=False, hoverinfo="skip"))

        # median
        fig.add_trace(go.Scatter(x=QUARTERS, y=mean, mode="lines", line=dict(width=2.3, color=LINE_BLUE),
                                 xaxis=xref, yaxis=yref, showlegend=False))

        xl, xr = COL_X[c]
        top = ROW_TOP[r]
        bottom = top + ROW_H
        axis_common = dict(showline=True, linecolor=FRAME, linewidth=1, mirror="allticks",
                           ticks="inside", ticklen=3, tickcolor=FRAME, showgrid=False, zeroline=False,
                           tickfont=dict(family=SERIF, size=11, color="#333333"))
        layout[f"xaxis{n}"] = dict(domain=[xl / W, xr / W], range=[2005, 2018], anchor=yref,
                                   tickmode="array", tickvals=YEARS, ticktext=YEAR_LABELS,
                                   **axis_common)
        layout[f"yaxis{n}"] = dict(domain=[1 - bottom / H, 1 - top / H], range=[y0, y1], anchor=xref,
                                   tickmode="array", tickvals=Y_TICKS[k],
                                   ticktext=[f"{v:g}" for v in Y_TICKS[k]], **axis_common)

        centre = (xl + xr) / 2
        for word, off in title_words(src, dst):
            annotations.append(dict(text=f"<b>{word}</b>", xref="paper", yref="paper",
                                    x=(centre + off) / W, y=1 - top / H,
                                    xanchor="center", yanchor="bottom", yshift=1.5, showarrow=False,
                                    font=dict(family=SERIF, size=TITLE_SIZE, color="#000000")))

fig.update_layout(width=W, height=H, margin=dict(l=0, r=0, t=0, b=0),
                  paper_bgcolor="white", plot_bgcolor="white", showlegend=False,
                  annotations=annotations, **layout)

fig.write_html("out.html")
